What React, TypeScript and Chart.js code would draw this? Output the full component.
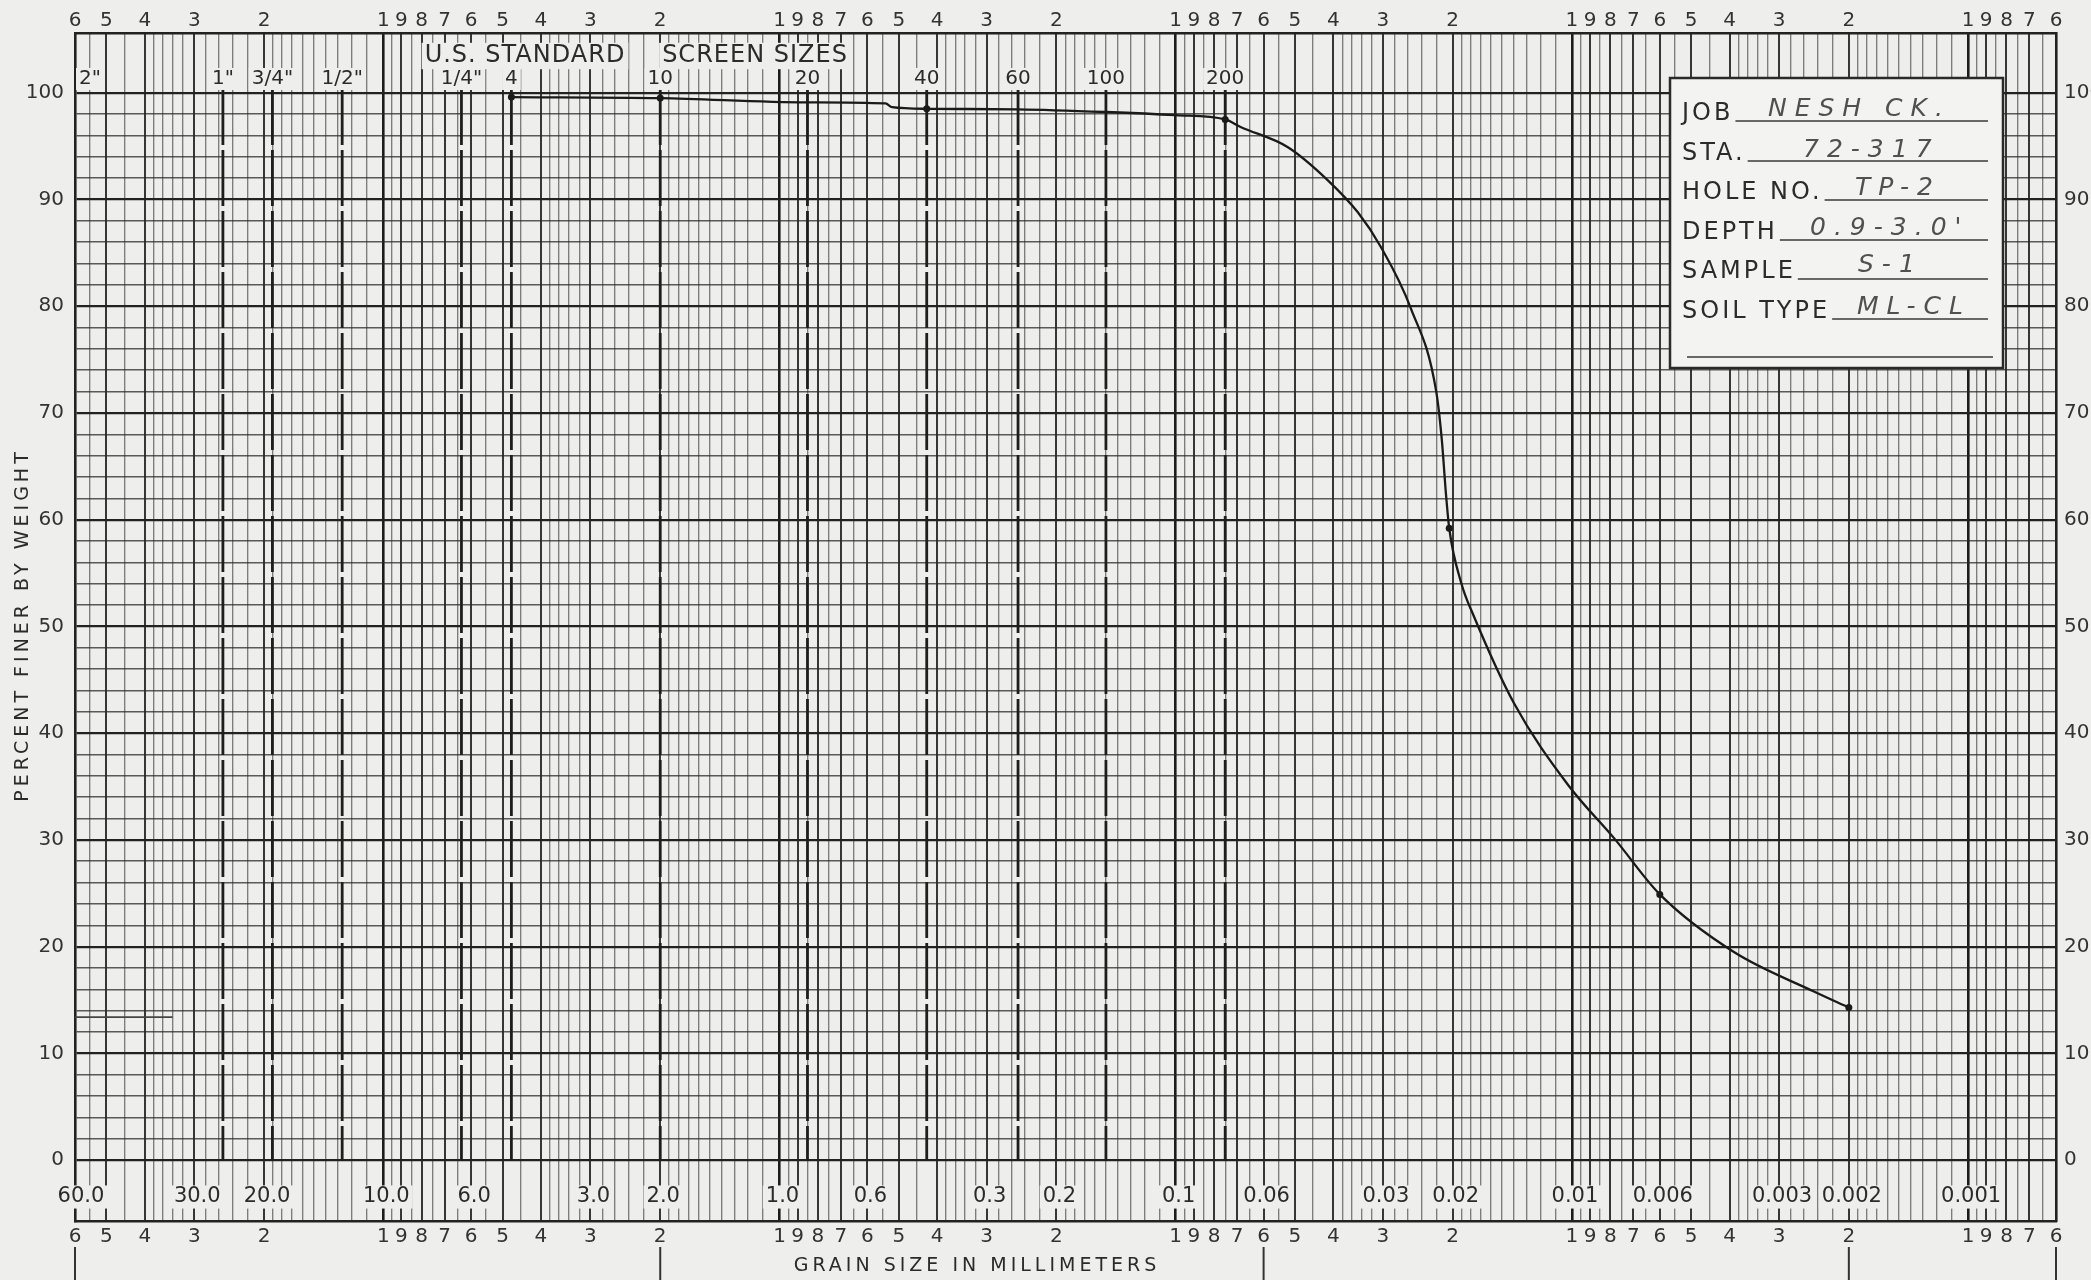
import React, { useEffect, useRef } from 'react';
import { Chart, registerables } from 'chart.js';

Chart.register(...registerables);

// ---------------- data read from the sheet ----------------
const grainSizeMm = [4.75, 2.0, 0.85, 0.54, 0.52, 0.425, 0.25, 0.15, 0.1, 0.075, 0.0686, 0.0521, 0.0413, 0.0347, 0.0304, 0.0255, 0.022, 0.0213, 0.0208, 0.0204, 0.019, 0.0177, 0.014, 0.0102, 0.0078, 0.006, 0.0039, 0.00245, 0.002];
const percentFiner = [99.6, 99.5, 99.1, 99.0, 98.65, 98.5, 98.45, 98.2, 97.9, 97.5, 96.8, 94.9, 91.8, 88.8, 85.6, 79.8, 72.0, 67.5, 62.5, 59.2, 54.0, 51.0, 42.8, 35.1, 30.1, 24.9, 19.5, 15.8, 14.3];
const measuredMm = [4.75, 2.0, 0.425, 0.075, 0.0204, 0.006, 0.002];
const measuredPct = [99.6, 99.5, 98.5, 97.5, 59.2, 24.9, 14.3];
const stubMm = [60, 34];
const stubPct = [13.4, 13.4];

const sieveNames = ['2"', '1"', '3/4"', '1/2"', '1/4"', '4', '10', '20', '40', '60', '100', '200'];
const sieveMm = [50.8, 25.4, 19.05, 12.7, 6.35, 4.75, 2.0, 0.85, 0.425, 0.25, 0.15, 0.075];

const mmLabels = ['60.0', '30.0', '20.0', '10.0', '6.0', '3.0', '2.0', '1.0', '0.6', '0.3', '0.2', '0.1', '0.06', '0.03', '0.02', '0.01', '0.006', '0.003', '0.002', '0.001'];
const mmLabelValues = [60, 30, 20, 10, 6, 3, 2, 1, 0.6, 0.3, 0.2, 0.1, 0.06, 0.03, 0.02, 0.01, 0.006, 0.003, 0.002, 0.001];

const cycleMantissas = [1, 1.1, 1.2, 1.3, 1.4, 1.5, 1.6, 1.7, 1.8, 1.9, 2, 2.2, 2.4, 2.6, 2.8, 3, 3.2, 3.4, 3.6, 3.8, 4, 4.5, 5, 5.5, 6, 6.5, 7, 7.5, 8, 8.5, 9, 9.5];
const decadeExponents = [-4, -3, -2, -1, 0, 1];

const percentGrid = [0, 2, 4, 6, 8, 10, 12, 14, 16, 18, 20, 22, 24, 26, 28, 30, 32, 34, 36, 38, 40, 42, 44, 46, 48, 50, 52, 54, 56, 58, 60, 62, 64, 66, 68, 70, 72, 74, 76, 78, 80, 82, 84, 86, 88, 90, 92, 94, 96, 98, 100];
const percentLabels = [0, 10, 20, 30, 40, 50, 60, 70, 80, 90, 100];

const classBoundsMm = [60, 2, 0.06, 0.002, 0.0006];

const sheetFields = ['JOB', 'STA.', 'HOLE NO.', 'DEPTH', 'SAMPLE', 'SOIL TYPE'];
const sheetEntries = ['NESH CK.', '72-317', 'TP-2', "0.9-3.0'", 'S-1', 'ML-CL'];

const X_MIN = 0.0006;
const X_MAX = 60;
const Y_MIN = -5.7;
const Y_MAX = 105.6;

export default function App() {
  const canvasRef = useRef<HTMLCanvasElement | null>(null);

  useEffect(() => {
    const canvas = canvasRef.current;
    if (!canvas) return;
    const W = 2091;
    const H = 1280;
    const FONT = '"DejaVu Sans", "Liberation Sans", Arial, sans-serif';
    const PAPER = '#eeeeec';
    const INK = '#2b2b2b';

    const gridValues: number[] = [];
    for (const e of decadeExponents) {
      for (const m of cycleMantissas) {
        const v = Number((m * Math.pow(10, e)).toPrecision(8));
        if (v >= X_MIN * 0.999999 && v <= X_MAX * 1.000001) gridValues.push(v);
      }
    }
    gridValues.sort((a, b) => a - b);

    const mant = (v: number) => {
      const e = Math.floor(Math.log10(v) + 1e-9);
      return Math.round((v / Math.pow(10, e)) * 1000) / 1000;
    };
    const xLabel = (v: number) => {
      const m = mant(v);
      return Number.isInteger(m) ? String(m) : '';
    };
    const xGridColor = (c: any) => {
      const v = c.tick?.value;
      if (v == null) return 'rgba(0,0,0,0)';
      const m = mant(v);
      if (m === 1) return '#1c1c1c';
      if (Number.isInteger(m)) return 'rgba(30,30,30,0.88)';
      return 'rgba(55,55,55,0.62)';
    };
    const xGridWidth = (c: any) => {
      const v = c.tick?.value;
      if (v == null) return 1;
      const m = mant(v);
      if (m === 1) return 2.6;
      if (Number.isInteger(m)) return 2.0;
      return 1.35;
    };
    const setXTicks = (scale: any) => {
      scale.ticks = gridValues.map((v) => ({ value: v }));
    };
    const setYTicks = (scale: any) => {
      scale.ticks = percentGrid.map((v) => ({ value: v }));
    };
    const yLabel = (v: any) => (percentLabels.includes(Number(v)) ? String(v) : '');

    const tickFont = { family: FONT, size: 20 };

    const setSpacing = (ctx: any, s: string) => {
      try { ctx.letterSpacing = s; } catch (e) { /* ignore */ }
    };

    const boxedText = (ctx: CanvasRenderingContext2D, text: string, x: number, y: number, align: CanvasTextAlign, size: number) => {
      const w = ctx.measureText(text).width;
      const left = align === 'center' ? x - w / 2 : align === 'left' ? x : x - w;
      ctx.fillStyle = PAPER;
      ctx.fillRect(left - 3, y - size * 0.55, w + 6, size * 1.1);
      ctx.fillStyle = INK;
      ctx.textAlign = align;
      ctx.textBaseline = 'middle';
      ctx.fillText(text, x, y);
    };

    const paperPlugin = {
      id: 'paper',
      beforeDraw(chart: any) {
        const ctx = chart.ctx;
        ctx.save();
        ctx.fillStyle = PAPER;
        ctx.fillRect(0, 0, W, H);
        ctx.restore();
      },
    };

    const sheetPlugin = {
      id: 'sheet',
      beforeDatasetsDraw(chart: any) {
        const ctx: CanvasRenderingContext2D = chart.ctx;
        const xs = chart.scales.x;
        const ys = chart.scales.y;
        const y0 = ys.getPixelForValue(0);
        ctx.save();
        // sieve lines
        ctx.strokeStyle = '#1e1e1e';
        ctx.lineWidth = 2.8;
        ctx.setLineDash([56, 5]);
        sieveMm.forEach((mm, i) => {
          if (i === 0) return;
          const x = xs.getPixelForValue(mm);
          ctx.beginPath();
          ctx.moveTo(x, 89);
          ctx.lineTo(x, y0);
          ctx.stroke();
        });
        ctx.setLineDash([]);
        // sieve labels
        ctx.font = `20px ${FONT}`;
        sieveNames.forEach((name, i) => {
          if (i === 0) {
            boxedText(ctx, name, chart.chartArea.left + 4, 79, 'left', 20);
          } else {
            boxedText(ctx, name, xs.getPixelForValue(sieveMm[i]), 79, 'center', 20);
          }
        });
        // header
        ctx.font = `24px ${FONT}`;
        setSpacing(ctx, '1px');
        boxedText(ctx, 'U.S. STANDARD', 525, 56, 'center', 24);
        boxedText(ctx, 'SCREEN SIZES', 755, 56, 'center', 24);
        setSpacing(ctx, '0px');
        // millimetre labels
        ctx.font = `21px ${FONT}`;
        mmLabels.forEach((lab, i) => {
          const x = xs.getPixelForValue(mmLabelValues[i]);
          boxedText(ctx, lab, i === 0 ? x + 6 : x + 3, 1197, 'center', 21);
        });
        ctx.restore();
      },
      afterDraw(chart: any) {
        const ctx: CanvasRenderingContext2D = chart.ctx;
        const xs = chart.scales.x;
        ctx.save();
        // class boundary marks below the sheet
        ctx.strokeStyle = '#333';
        ctx.lineWidth = 2;
        classBoundsMm.forEach((mm) => {
          const x = xs.getPixelForValue(mm);
          ctx.beginPath();
          ctx.moveTo(x, 1247);
          ctx.lineTo(x, 1280);
          ctx.stroke();
        });
        // axis titles
        ctx.fillStyle = INK;
        ctx.font = `19px ${FONT}`;
        setSpacing(ctx, '4px');
        ctx.textAlign = 'center';
        ctx.textBaseline = 'middle';
        ctx.fillText('GRAIN SIZE IN MILLIMETERS', 977, 1266);
        ctx.save();
        ctx.translate(23, 625);
        ctx.rotate(-Math.PI / 2);
        ctx.fillText('PERCENT FINER BY WEIGHT', 0, 0);
        ctx.restore();
        setSpacing(ctx, '0px');

        // sample box
        ctx.fillStyle = '#f3f3f1';
        ctx.fillRect(1670, 78, 333, 290);
        ctx.strokeStyle = '#2a2a2a';
        ctx.lineWidth = 2.5;
        ctx.strokeRect(1670, 78, 333, 290);
        const baselines = [120, 160, 199, 239, 278, 318];
        const entryX = [1768, 1803, 1855, 1810, 1858, 1857];
        const entryBase = [116, 157, 195, 235, 272, 314];
        ctx.textAlign = 'left';
        ctx.textBaseline = 'alphabetic';
        sheetFields.forEach((f, i) => {
          ctx.font = `24px ${FONT}`;
          setSpacing(ctx, '3px');
          ctx.fillStyle = INK;
          ctx.fillText(f, 1682, baselines[i]);
          const w = ctx.measureText(f).width;
          ctx.strokeStyle = '#3a3a3a';
          ctx.lineWidth = 1.6;
          ctx.beginPath();
          ctx.moveTo(1682 + w + 2, baselines[i] + 1);
          ctx.lineTo(1988, baselines[i] + 1);
          ctx.stroke();
          ctx.font = `italic 300 25px ${FONT}`;
          setSpacing(ctx, '8px');
          ctx.fillStyle = '#505050';
          ctx.fillText(sheetEntries[i], entryX[i], entryBase[i]);
        });
        setSpacing(ctx, '0px');
        ctx.beginPath();
        ctx.moveTo(1687, 357);
        ctx.lineTo(1993, 357);
        ctx.stroke();
        ctx.restore();
      },
    };

    const xCommon = {
      type: 'logarithmic' as const,
      min: X_MIN,
      max: X_MAX,
      reverse: true,
      bounds: 'data' as const,
      afterBuildTicks: setXTicks,
    };

    const chart = new Chart(canvas, {
      type: 'line',
      data: {
        datasets: [
          {
            label: 'Percent finer',
            data: grainSizeMm.map((x, i) => ({ x, y: percentFiner[i] })),
            borderColor: '#1a1a1a',
            borderWidth: 2.3,
            pointRadius: 0,
            cubicInterpolationMode: 'monotone',
            xAxisID: 'x',
            yAxisID: 'y',
          },
          {
            label: 'Measured',
            data: measuredMm.map((x, i) => ({ x, y: measuredPct[i] })),
            showLine: false,
            pointRadius: 3.5,
            pointBackgroundColor: '#1a1a1a',
            pointBorderWidth: 0,
            xAxisID: 'x',
            yAxisID: 'y',
          },
          {
            label: 'Mark',
            data: stubMm.map((x, i) => ({ x, y: stubPct[i] })),
            borderColor: '#444',
            borderWidth: 1.6,
            pointRadius: 0,
            xAxisID: 'x',
            yAxisID: 'y',
          },
        ],
      },
      options: {
        responsive: false,
        animation: false,
        devicePixelRatio: 1,
        events: [],
        layout: { padding: 0 },
        plugins: { legend: { display: false }, tooltip: { enabled: false }, title: { display: false } },
        scales: {
          x: {
            ...xCommon,
            position: 'bottom',
            afterFit: (s: any) => { s.height = 59; },
            grid: { drawTicks: false, color: xGridColor, lineWidth: xGridWidth },
            border: { display: true, color: '#222', width: 2.6 },
            ticks: { autoSkip: false, maxRotation: 0, minRotation: 0, padding: 4, font: tickFont, color: '#333', callback: (v: any) => xLabel(Number(v)) },
          },
          x2: {
            ...xCommon,
            position: 'top',
            afterFit: (s: any) => { s.height = 33; },
            grid: { display: false, drawTicks: false },
            border: { display: true, color: '#222', width: 2.6 },
            ticks: { autoSkip: false, maxRotation: 0, minRotation: 0, padding: 0, font: tickFont, color: '#333', callback: (v: any) => xLabel(Number(v)) },
          },
          y: {
            type: 'linear',
            position: 'left',
            min: Y_MIN,
            max: Y_MAX,
            bounds: 'data',
            afterBuildTicks: setYTicks,
            afterFit: (s: any) => { s.width = 75; },
            grid: {
              drawTicks: false,
              color: (c: any) => (c.tick && c.tick.value % 10 === 0 ? '#222' : 'rgba(40,40,40,0.75)'),
              lineWidth: (c: any) => (c.tick && c.tick.value % 10 === 0 ? 2.3 : 1.6),
            },
            border: { display: true, color: '#222', width: 2.6 },
            ticks: { autoSkip: false, padding: 11, font: tickFont, color: '#333', callback: yLabel },
          },
          y2: {
            type: 'linear',
            position: 'right',
            min: Y_MIN,
            max: Y_MAX,
            bounds: 'data',
            afterBuildTicks: setYTicks,
            afterFit: (s: any) => { s.width = 35; },
            grid: { display: false, drawTicks: false },
            border: { display: true, color: '#222', width: 2.6 },
            ticks: { autoSkip: false, padding: 8, font: tickFont, color: '#333', callback: yLabel },
          },
        },
      } as any,
      plugins: [paperPlugin, sheetPlugin],
    });

    return () => {
      chart.destroy();
    };
  }, []);

  return (
    <div style={{ position: 'absolute', left: 0, top: 0, width: 2091, height: 1280, background: '#eeeeec' }}>
      <canvas ref={canvasRef} width={2091} height={1280} style={{ display: 'block', width: 2091, height: 1280 }} />
    </div>
  );
}
